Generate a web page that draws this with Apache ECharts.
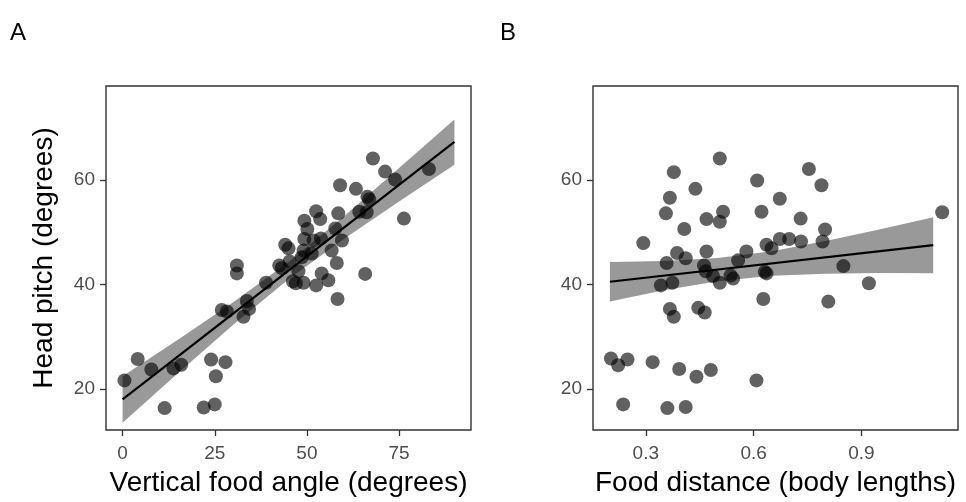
<!DOCTYPE html>
<html>
<head>
<meta charset="utf-8">
<script src="https://cdn.jsdelivr.net/npm/echarts@6/dist/echarts.min.js"></script>
<style>html,body{margin:0;padding:0;background:#fff;}#c{width:966px;height:502px;}</style>
</head>
<body>
<div id="c"></div>
<script>
// ---- Panel A data: vertical food angle (deg) vs head pitch (deg)
const angleX = [0.5,4.1,7.8,11.4,13.8,15.9,24.0,27.9,25.3,22.0,25.0,31.0,31.0,26.9,28.3,33.7,34.3,32.8,38.9,
  67.9,71.2,59.0,63.3,66.4,66.9,64.2,66.2,58.5,52.5,53.6,49.3,50.1,57.7,49.3,51.8,53.8,59.5,56.7,44.1,45.0,49.1,51.3,
  45.3,48.6,42.5,43.2,47.7,58.1,54.0,55.8,52.5,49.1,46.2,47.0,65.8,58.3,73.9,83.1,76.3];
const pitchA = [21.6,25.7,23.7,16.3,23.9,24.6,25.6,25.1,22.4,16.4,17.0,43.6,42.1,35.1,34.8,36.8,35.3,33.8,40.3,
  64.1,61.6,59.0,58.3,56.8,56.3,53.9,53.8,53.6,54.0,52.5,52.2,50.6,50.7,48.7,48.4,48.8,48.4,46.5,47.6,46.9,46.5,45.9,
  44.4,45.2,43.6,43.1,42.5,44.1,42.1,40.8,39.8,40.3,40.6,40.2,42.0,37.2,60.1,62.1,52.6];
// fitted line and confidence band
const fitAX = [0, 90];
const fitAY = [17.97, 67.3];
const bandAX = [0, 15, 30, 45, 60, 75, 90];
const bandALo = [13.5, 22.98, 32.26, 40.98, 48.71, 55.87, 62.9];
const bandAHi = [22.4, 29.40, 36.56, 44.28, 53.01, 62.29, 71.6];

// ---- Panel B data: food distance (body lengths) vs head pitch (deg)
const distX = [0.506,0.378,0.438,0.367,0.356,0.407,0.469,0.506,0.515,0.610,0.673,0.622,0.754,0.789,0.731,0.799,0.792,
  0.732,0.699,0.673,0.636,0.650,0.580,0.557,0.469,0.387,0.411,0.358,0.293,0.462,0.467,0.487,0.506,0.536,0.543,0.631,
  0.636,0.850,0.342,0.374,0.627,0.808,0.367,0.378,0.446,0.464,1.125,0.921,
  0.203,0.223,0.249,0.237,0.319,0.393,0.441,0.481,0.360,0.411,0.608];
const pitchB = [64.1,61.5,58.3,56.6,53.6,50.6,52.5,52.0,53.9,59.9,56.4,53.9,62.1,59.0,52.6,50.5,48.2,
  48.2,48.7,48.7,47.6,46.9,46.3,44.6,46.3,46.0,45.0,44.1,47.9,43.6,42.5,41.6,40.3,41.7,41.1,42.4,
  42.1,43.5,39.8,40.3,37.2,36.7,35.3,33.8,35.5,34.6,53.8,40.2,
  25.8,24.5,25.6,17.0,25.1,23.8,22.3,23.6,16.3,16.5,21.6];
const fitBX = [0.2, 1.1];
const fitBY = [40.5, 47.5];
const bandBX = [0.2, 0.35, 0.5, 0.65, 0.8, 0.95, 1.1];
const bandBLo = [36.7, 38.85, 40.59, 41.64, 42.05, 42.16, 42.15];
const bandBHi = [44.3, 44.49, 45.07, 46.36, 48.29, 50.50, 52.85];

// ---- axis ticks
const yTicks = [20, 40, 60];
const xTicksA = [0, 25, 50, 75];
const xTicksB = [0.3, 0.6, 0.9];

const zip = (a, b) => a.map((v, i) => [v, b[i]]);
const FONT = 'Liberation Sans';

function bandSeries(xs, lo, hi, idx) {
  const data = xs.map((x, i) => [x, lo[i], hi[i]]);
  return {
    type: 'custom', xAxisIndex: idx, yAxisIndex: idx, z: 1, silent: true,
    data: data,
    encode: { x: 0, y: [1, 2] },
    renderItem: function (params, api) {
      if (params.dataIndex !== 0) return null;
      const top = data.map(d => api.coord([d[0], d[2]]));
      const bot = data.slice().reverse().map(d => api.coord([d[0], d[1]]));
      return { type: 'polygon', shape: { points: top.concat(bot) }, style: { fill: '#999999' } };
    }
  };
}

function xAxisCfg(idx, min, max, ticks, name) {
  return {
    type: 'value', gridIndex: idx, min: min, max: max,
    axisLine: { show: false, onZero: false },
    splitLine: { show: false },
    axisTick: { show: true, length: 6, customValues: ticks, lineStyle: { color: '#333', width: 1.3 } },
    axisLabel: { customValues: ticks, color: '#4d4d4d', fontSize: 19, fontFamily: FONT, margin: 14 },
    name: name, nameLocation: 'middle', nameGap: 39,
    nameTextStyle: { color: '#000', fontSize: 28, fontFamily: FONT }
  };
}
function yAxisCfg(idx, name) {
  return {
    type: 'value', gridIndex: idx, min: 12.1, max: 78.0,
    axisLine: { show: false, onZero: false },
    splitLine: { show: false },
    axisTick: { show: true, length: 6, customValues: yTicks, lineStyle: { color: '#333', width: 1.3 } },
    axisLabel: { customValues: yTicks, color: '#4d4d4d', fontSize: 19, fontFamily: FONT, margin: 11 },
    name: name, nameLocation: 'middle', nameGap: 48, nameRotate: 90,
    nameTextStyle: { color: '#000', fontSize: 28, fontFamily: FONT }
  };
}

const chart = echarts.init(document.getElementById('c'), null, { renderer: 'canvas' });
chart.setOption({
  animation: false,
  backgroundColor: '#fff',
  title: [
    { text: 'A', left: 5, top: 16, textStyle: { fontSize: 24, fontWeight: 'normal', fontFamily: FONT, color: '#000' } },
    { text: 'B', left: 495, top: 16, textStyle: { fontSize: 24, fontWeight: 'normal', fontFamily: FONT, color: '#000' } }
  ],
  grid: [
    { left: 106, top: 86, width: 365, height: 347, show: true, borderColor: '#333', borderWidth: 1.4, backgroundColor: 'transparent' },
    { left: 593, top: 86, width: 365, height: 347, show: true, borderColor: '#333', borderWidth: 1.4, backgroundColor: 'transparent' }
  ],
  xAxis: [
    xAxisCfg(0, -4.5, 94.5, xTicksA, 'Vertical food angle (degrees)'),
    xAxisCfg(1, 0.153, 1.169, xTicksB, 'Food distance (body lengths)')
  ],
  yAxis: [
    yAxisCfg(0, 'Head pitch (degrees)'),
    yAxisCfg(1, '')
  ],
  series: [
    bandSeries(bandAX, bandALo, bandAHi, 0),
    { type: 'scatter', xAxisIndex: 0, yAxisIndex: 0, z: 2, data: zip(angleX, pitchA), symbolSize: 14,
      itemStyle: { color: '#000', opacity: 0.62 } },
    { type: 'line', xAxisIndex: 0, yAxisIndex: 0, z: 3, data: zip(fitAX, fitAY), symbol: 'none',
      lineStyle: { color: '#000', width: 2.2 } },
    bandSeries(bandBX, bandBLo, bandBHi, 1),
    { type: 'scatter', xAxisIndex: 1, yAxisIndex: 1, z: 2, data: zip(distX, pitchB), symbolSize: 14,
      itemStyle: { color: '#000', opacity: 0.62 } },
    { type: 'line', xAxisIndex: 1, yAxisIndex: 1, z: 3, data: zip(fitBX, fitBY), symbol: 'none',
      lineStyle: { color: '#000', width: 2.2 } }
  ]
});
</script>
</body>
</html>
